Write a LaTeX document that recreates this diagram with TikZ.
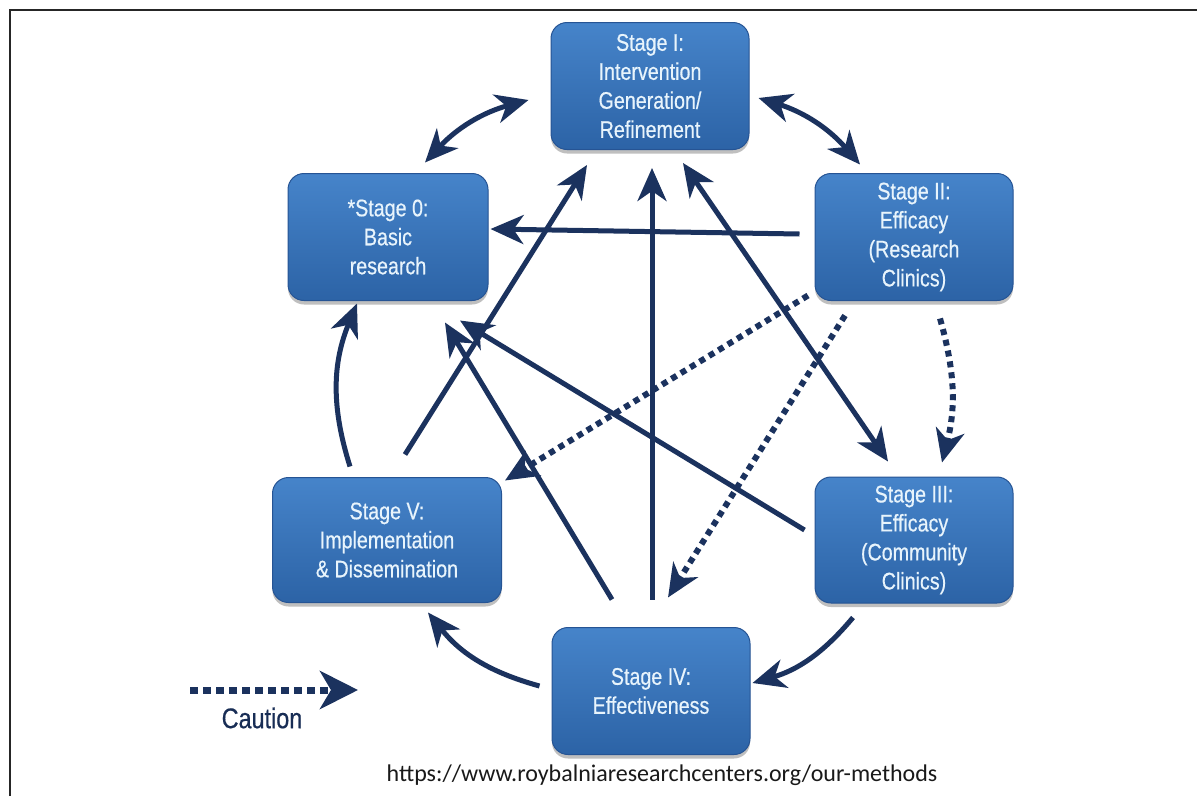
\documentclass[tikz,border=0pt]{standalone}
\usepackage{fontspec}
\setmainfont{Liberation Sans}
\newfontfamily\boxfont{Liberation Sans}[FakeStretch=0.82,FakeBold=0.5]
\newfontfamily\urlfont{Carlito}
\usetikzlibrary{arrows.meta,shadows}

\definecolor{navy}{RGB}{27,50,94}
\definecolor{boxtop}{RGB}{70,132,202}
\definecolor{boxbot}{RGB}{44,99,166}
\definecolor{boxedge}{RGB}{38,84,148}
\definecolor{boxtext}{RGB}{232,244,252}

\begin{document}
\begin{tikzpicture}[x=1pt,y=-1pt,
  stagebox/.style={rounded corners=16pt, inner sep=0pt,
    minimum width=198pt, minimum height=127pt,
    top color=boxtop, bottom color=boxbot, draw=boxedge, line width=1pt,
    text=boxtext, align=center,
    font=\boxfont\fontsize{24}{29}\selectfont,
    drop shadow={shadow xshift=0pt, shadow yshift=-4pt, opacity=0.25, fill=black}},
  link/.style={draw=navy, line width=5pt},
  caution/.style={draw=navy, line width=6pt, dash pattern=on 6pt off 5pt},
  >={Stealth[length=33pt,width=29pt,inset=10pt]}]

\useasboundingbox (0,0) rectangle (1197,796);
\fill[white] (0,0) rectangle (1197,796);

% frame
\draw[line width=2pt, black!85] (9.5,796) -- (9.5,9.5) -- (1197,9.5);

% stages
\node[stagebox] (s1) at (650,86) {Stage I:\\Intervention\\Generation/\\Refinement};
\node[stagebox, minimum width=200pt] (s0) at (388,237) {*Stage 0:\\Basic\\research};
\node[stagebox] (s2) at (914,237) {Stage II:\\Efficacy\\(Research\\Clinics)};
\node[stagebox, minimum width=229pt, minimum height=125pt] (s5) at (387,540) {Stage V:\\Implementation\\\& Dissemination};
\node[stagebox, minimum height=126pt] (s3) at (914,540) {Stage III:\\Efficacy\\(Community\\Clinics)};
\node[stagebox] (s4) at (651,691) {Stage IV:\\Effectiveness};

% outer cycle
\draw[link, <->] ([shift={(37,-10.5)}]s0.north) to[bend left=16] ([shift={(-22,14)}]s1.west);
\draw[link, <->] ([shift={(9,12)}]s1.east) to[bend left=16] ([shift={(-54,-8.5)}]s2.north);
\draw[link, ->] ([shift={(-61,14)}]s3.south) to[bend left=17] ([shift={(2,-8)}]s4.east);
\draw[link, ->] ([shift={(-12,-5)}]s4.west) to[bend left=18] ([shift={(41,9.5)}]s5.south);
\draw[link, ->] ([shift={(-37,-10.5)}]s5.north) to[bend left=20] ([shift={(-31,2.5)}]s0.south);
\draw[caution, ->] ([shift={(26,17.5)}]s2.south) to[bend left=15] ([shift={(28,-14)}]s3.north);

% inner links
\draw[link, ->] ([shift={(-15,-3)}]s2.west) -- ([shift={(2,-8)}]s0.east);
\draw[link, ->] ([shift={(18,-22.5)}]s5.north) -- ([shift={(-63,15)}]s1.south);
\draw[link, ->] ([shift={(-39,-27.5)}]s4.north) -- ([shift={(57,21.5)}]s0.south);
\draw[link, ->] ([shift={(1,-27.5)}]s4.north) -- ([shift={(2,18)}]s1.south);
\draw[link, ->] ([shift={(-10,-10)}]s3.west) -- ([shift={(72,19.5)}]s0.south);
\draw[link, <->] ([shift={(33,13)}]s1.south) -- ([shift={(-26,-15)}]s3.north);
\draw[caution, ->] ([shift={(-106,-5.5)}]s2.south) -- ([shift={(118,3.5)}]s5.north);
\draw[caution, ->] ([shift={(-69,14.5)}]s2.south) -- ([shift={(17,-29.5)}]s4.north);

% legend
\coordinate (cs) at (190,690);
\coordinate (ce) at (358,690);
\draw[caution, line width=7pt, dash pattern=on 8pt off 5pt,
  -{Stealth[length=38pt,width=38pt,inset=11pt]}] (cs) -- (ce);
\node[text=navy!90!black, font=\boxfont\fontsize{28.5}{32}\selectfont] (cl) at (262,718) {Caution};

% source
\node[anchor=base, text=black!90, font=\urlfont\fontsize{24}{28}\selectfont] (url) at (662,781)
  {https://www.roybalniaresearchcenters.org/our-methods};
\end{tikzpicture}
\end{document}
